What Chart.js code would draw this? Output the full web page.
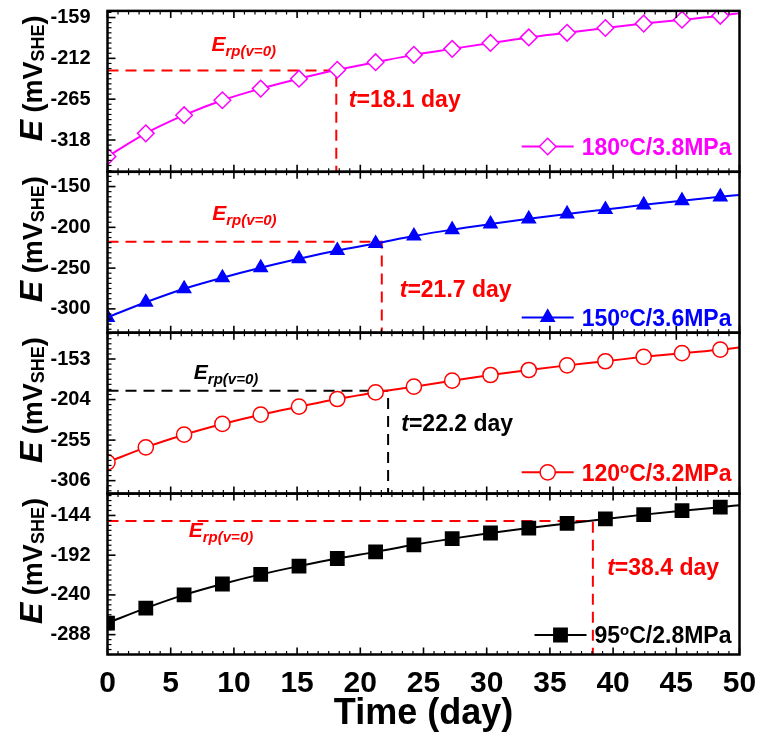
<!DOCTYPE html>
<html>
<head>
<meta charset="utf-8">
<style>
  html, body { margin: 0; padding: 0; background: #fff; }
  canvas { display: block; }
</style>
<script src="https://cdn.jsdelivr.net/npm/chart.js@4/dist/chart.umd.min.js"></script>
</head>
<body>
<canvas id="c" width="757" height="738"></canvas>
<script>
// Immersion time (day); the last entry only extends the fitted curve to the axis end
const time = [0, 3.03, 6.06, 9.09, 12.12, 15.15, 18.18, 21.21, 24.24, 27.27, 30.30, 33.33, 36.36, 39.39, 42.42, 45.45, 48.48, 50];

// Potential E (mV vs SHE) for each condition
const e180 = [-339.5, -309.4, -285.8, -266.4, -251.3, -238.4, -226.8, -217.0, -207.5, -199.7, -192.0, -184.8, -178.8, -172.6, -166.9, -161.8, -156.8, -153.3];
const e150 = [-310.4, -291.9, -275.3, -261.8, -249.6, -238.6, -228.4, -219.8, -210.6, -202.8, -196.0, -189.6, -183.6, -178.2, -172.4, -167.3, -162.6, -160.3];
const e120 = [-283.0, -264.1, -248.2, -234.7, -223.0, -213.0, -203.3, -195.0, -187.8, -180.3, -173.1, -166.8, -161.0, -155.8, -150.3, -145.6, -141.3, -138.6];
const e95  = [-274.0, -256.0, -240.0, -226.8, -215.2, -205.2, -196.0, -188.0, -179.5, -172.0, -165.2, -159.2, -153.6, -148.2, -143.0, -138.2, -134.0, -131.6];

// Erp(v=0) level and the time at which each curve reaches it
const erpValues = [-227.7, -217.8, -192.9, -150.8];
const erpTimes  = [18.1, 21.7, 22.2, 38.4];

// Series naming
const temps     = ['180', '150', '120', '95'];
const pressures = ['3.8MPa', '3.6MPa', '3.2MPa', '2.8MPa'];

// Tick labels
const xTicks   = [0, 5, 10, 15, 20, 25, 30, 35, 40, 45, 50];
const yTicks180 = [-318, -265, -212, -159];
const yTicks150 = [-300, -250, -200, -150];
const yTicks120 = [-306, -255, -204, -153];
const yTicks95  = [-288, -240, -192, -144];

const FONT = '"Liberation Sans", Arial, Helvetica, sans-serif';
Chart.defaults.font.family = FONT;

// Panel styling, top to bottom
const panels = [
  { id: 'p1', vals: e180, ticks: yTicks180, range: [-359.3, -150.4], color: '#FF00FF', style: 'rectRot',  r: 8.3, fill: '#FFFFFF',
    refColor: '#FF0000', eAt: [8.23, -201.9], tAt: [19.09, -275.0], legendUp: 25.3 },
  { id: 'p2', vals: e150, ticks: yTicks150, range: [-329.2, -131.9], color: '#0000FF', style: 'triangle', r: 7.6, fill: '#0000FF',
    refColor: '#FF0000', eAt: [8.28, -191.1], tAt: [23.12, -285.7], legendUp: 15.3 },
  { id: 'p3', vals: e120, ticks: yTicks120, range: [-322.3, -119.9], color: '#FF0000', style: 'circle',   r: 7.6, fill: '#FFFFFF',
    refColor: '#000000', eAt: [6.83, -178.1], tAt: [23.24, -243.1], legendUp: 21.3 },
  { id: 'p4', vals: e95,  ticks: yTicks95,  range: [-312.0, -117.6], color: '#000000', style: 'rect',     r: 9.4, fill: '#000000',
    refColor: '#FF0000', eAt: [6.43, -170.0], tAt: [39.53, -216.0], legendUp: 19.5 }
];

const datasets = [];
panels.forEach((p, i) => {
  const last = time.length - 1;
  datasets.push({
    label: temps[i] + '°C/' + pressures[i],
    data: time.map((t, k) => ({ x: t, y: p.vals[k] })),
    yAxisID: p.id,
    borderColor: p.color,
    backgroundColor: p.fill,
    borderWidth: 2,
    cubicInterpolationMode: 'monotone',
    pointStyle: p.style,
    pointRadius: ctx => (ctx.dataIndex === last ? 0 : p.r),
    pointBorderWidth: 1.5,
    pointBorderColor: p.color,
    pointBackgroundColor: p.fill,
    order: 0
  });
  // dashed guide: horizontal to the crossing, then down to the panel floor
  datasets.push({
    label: 'Erp ' + i,
    data: [
      { x: 0, y: erpValues[i] },
      { x: erpTimes[i], y: erpValues[i] },
      { x: erpTimes[i], y: p.range[0] }
    ],
    yAxisID: p.id,
    borderColor: p.refColor,
    borderWidth: 2,
    borderDash: [11, 7],
    pointRadius: 0,
    tension: 0,
    order: 1
  });
});

const scales = {
  x: {
    type: 'linear', min: 0, max: 50,
    afterBuildTicks: s => { s.ticks = xTicks.map(v => ({ value: v })); },
    grid: { display: false }, border: { display: false },
    ticks: { font: { size: 30, weight: 'bold' }, color: '#000', padding: 3, maxRotation: 0, autoSkip: false },
    title: { display: true, text: 'Time (day)', font: { size: 36, weight: 'bold' }, color: '#000', padding: { top: 0, bottom: 2 } },
    afterFit: s => { s.height = 83.5; s.paddingLeft = 0; s.paddingRight = 0; }
  }
};
// stacked left axes are laid out bottom-up in definition order, so add the lowest panel first
panels.slice().reverse().forEach(p => {
  scales[p.id] = {
    type: 'linear', position: 'left', stack: 'E', stackWeight: 1,
    min: p.range[0], max: p.range[1],
    afterBuildTicks: s => { s.ticks = p.ticks.map(v => ({ value: v })); },
    grid: { display: false }, border: { display: false },
    ticks: { font: { size: 20, weight: 'bold' }, color: '#000', padding: 9, autoSkip: false, callback: v => String(v) },
    afterFit: s => { s.width = 107.5; s.paddingTop = 0; s.paddingBottom = 0; }
  };
});

// draw a run of text pieces with their own fonts and vertical shifts
function drawRich(ctx, segs, x, y) {
  let cx = x;
  segs.forEach(s => {
    ctx.font = s.font;
    ctx.fillText(s.text, cx, y + (s.dy || 0));
    cx += ctx.measureText(s.text).width;
  });
  return cx - x;
}
function richWidth(ctx, segs) {
  let w = 0;
  segs.forEach(s => { ctx.font = s.font; w += ctx.measureText(s.text).width; });
  return w;
}

function marker(ctx, style, r, x, y, fill, stroke) {
  ctx.save();
  ctx.fillStyle = fill; ctx.strokeStyle = stroke; ctx.lineWidth = 1.5; ctx.setLineDash([]);
  if (Chart.helpers && Chart.helpers.drawPoint) {
    Chart.helpers.drawPoint(ctx, { pointStyle: style, radius: r, rotation: 0, borderWidth: 1.5 }, x, y);
  }
  ctx.restore();
}

const decor = {
  id: 'decor',
  afterDraw(chart) {
    const ctx = chart.ctx, ca = chart.chartArea, xs = chart.scales.x;
    ctx.save();
    ctx.textBaseline = 'alphabetic';
    ctx.textAlign = 'left';
    panels.forEach((p, i) => {
      const s = chart.scales[p.id];
      const top = s.top, bot = s.bottom;
      ctx.strokeStyle = '#000';
      ctx.setLineDash([]);

      // x ticks on top and bottom edges, pointing inward
      for (let k = 0; k <= 60; k++) {
        const px = xs.getPixelForValue(k * 5 / 6);
        const major = k % 6 === 0;
        const len = major ? 7 : 3.5;
        ctx.lineWidth = major ? 1.6 : 1.2;
        ctx.beginPath();
        ctx.moveTo(px, bot); ctx.lineTo(px, bot - len);
        ctx.moveTo(px, top); ctx.lineTo(px, top + len);
        ctx.stroke();
      }
      // y ticks on left edge
      const step = Math.abs(p.ticks[1] - p.ticks[0]);
      const minor = step / 8;
      const t0 = p.ticks[0];
      const n0 = Math.ceil((p.range[0] - t0) / minor), n1 = Math.floor((p.range[1] - t0) / minor);
      for (let n = n0; n <= n1; n++) {
        const py = s.getPixelForValue(t0 + n * minor);
        const major = n % 8 === 0;
        ctx.lineWidth = major ? 1.6 : 1.2;
        ctx.beginPath();
        ctx.moveTo(ca.left, py); ctx.lineTo(ca.left + (major ? 8 : 4), py);
        ctx.stroke();
      }
      // frame
      ctx.lineWidth = 2.5;
      ctx.strokeRect(ca.left, top, ca.right - ca.left, bot - top);

      // y title: E (mV_SHE), rotated
      const ttl = [
        { text: 'E', font: 'italic bold 32px ' + FONT },
        { text: ' (mV', font: 'bold 27px ' + FONT },
        { text: 'SHE', font: 'bold 18px ' + FONT, dy: 2 },
        { text: ')', font: 'bold 27px ' + FONT }
      ];
      ctx.save();
      ctx.fillStyle = '#000';
      ctx.translate(42, (top + bot) / 2 - 13);
      ctx.rotate(-Math.PI / 2);
      const tw = richWidth(ctx, ttl);
      drawRich(ctx, ttl, -tw / 2, 0);
      ctx.restore();

      // Erp(v=0) label and crossing time
      ctx.fillStyle = p.refColor;
      drawRich(ctx, [
        { text: 'E', font: 'italic bold 21px ' + FONT },
        { text: 'rp(v=0)', font: 'italic bold 15px ' + FONT, dy: 5 }
      ], xs.getPixelForValue(p.eAt[0]), s.getPixelForValue(p.eAt[1]));
      drawRich(ctx, [
        { text: 't', font: 'italic bold 23px ' + FONT },
        { text: '=' + erpTimes[i].toFixed(1) + ' day', font: 'bold 23px ' + FONT }
      ], xs.getPixelForValue(p.tAt[0]), s.getPixelForValue(p.tAt[1]));

      // legend entry
      const lab = [
        { text: temps[i], font: 'bold 23px ' + FONT },
        { text: 'o', font: 'bold 15px ' + FONT, dy: -8 },
        { text: 'C/' + pressures[i], font: 'bold 23px ' + FONT }
      ];
      const ly = bot - p.legendUp;
      const lw = richWidth(ctx, lab);
      const textX = ca.right - 8 - lw;
      const lineEnd = textX - 8, lineStart = lineEnd - 52;
      ctx.strokeStyle = p.color; ctx.lineWidth = 2;
      ctx.beginPath(); ctx.moveTo(lineStart, ly); ctx.lineTo(lineEnd, ly); ctx.stroke();
      marker(ctx, p.style, p.r, (lineStart + lineEnd) / 2, ly, p.fill, p.color);
      ctx.fillStyle = p.color;
      drawRich(ctx, lab, textX, ly + 8.2);
    });
    ctx.restore();
  }
};

new Chart(document.getElementById('c'), {
  type: 'line',
  data: { datasets },
  options: {
    responsive: false,
    devicePixelRatio: 1,
    animation: false,
    layout: { padding: { top: 10, right: 17.5, bottom: 0, left: 0 } },
    scales,
    plugins: { legend: { display: false }, tooltip: { enabled: false } }
  },
  plugins: [decor]
});
</script>
</body>
</html>
